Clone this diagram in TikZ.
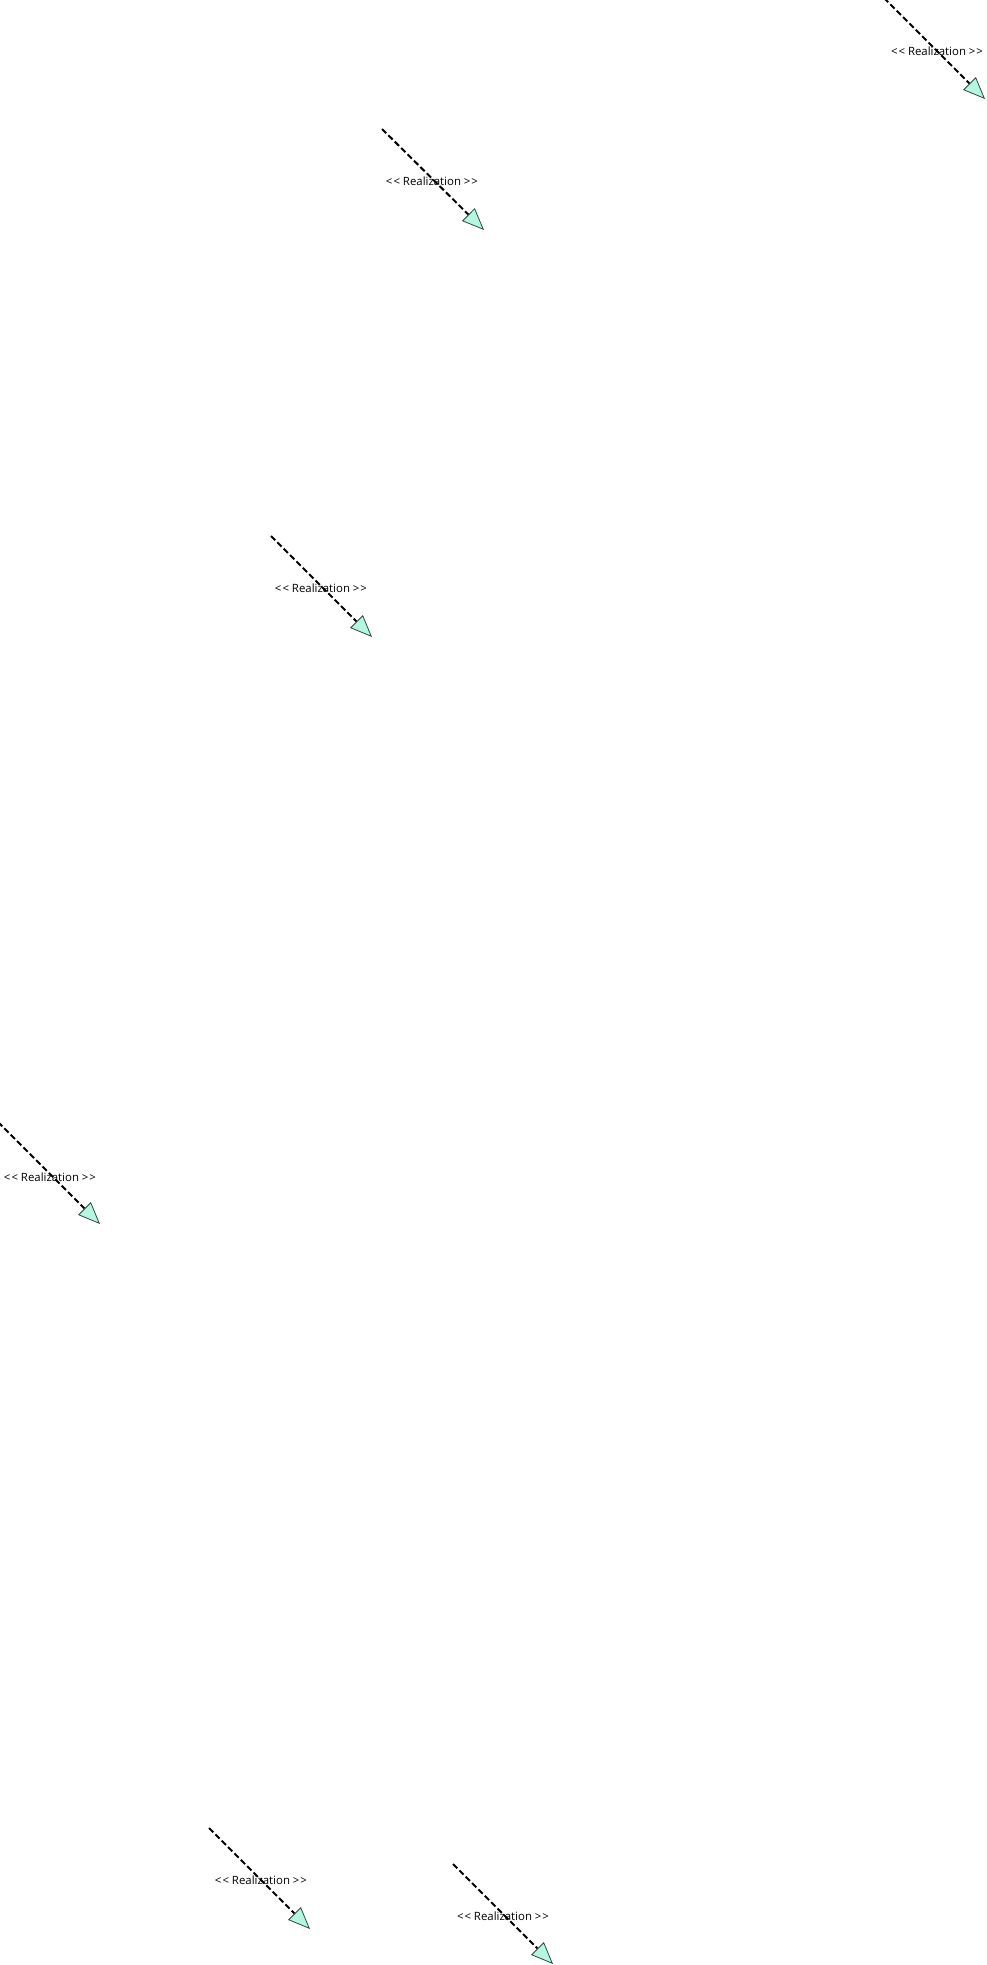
\documentclass[tikz,border=0pt]{standalone}
\usepackage{fontspec}
\setmainfont{Open Sans}
\usetikzlibrary{arrows.meta}
\definecolor{headfill}{HTML}{B5F6E0}
\definecolor{headdraw}{HTML}{2E4A40}
\newcommand\reallabel{<\kern1pt< Realization >\kern1pt>}
\begin{document}
\begin{tikzpicture}[x=1pt,y=-1pt,
  real/.style={draw=black, line width=2pt, dash pattern=on 6pt off 3pt,
    -{Triangle[length=22pt,width=18pt,fill=headfill,color=headdraw,line width=0.8pt]}},
  lbl/.style={font=\fontsize{11.4}{13}\selectfont, inner sep=0pt, text=black}]
\useasboundingbox (0,0) rectangle (987,1965);
% arrow 1
\coordinate (s1) at (884,-2);
\coordinate (t1) at (985,99);
\node[lbl] (l1) at (937,51) {\reallabel};
\draw[real] (s1) -- (t1);
% arrow 2
\coordinate (s2) at (382,129);
\coordinate (t2) at (484,230);
\node[lbl] (l2) at (432,181) {\reallabel};
\draw[real] (s2) -- (t2);
% arrow 3
\coordinate (s3) at (271,536);
\coordinate (t3) at (372,637);
\node[lbl] (l3) at (321,588) {\reallabel};
\draw[real] (s3) -- (t3);
% arrow 4
\coordinate (s4) at (-2,1122);
\coordinate (t4) at (100,1224);
\node[lbl] (l4) at (50,1177) {\reallabel};
\draw[real] (s4) -- (t4);
% arrow 5
\coordinate (s5) at (209,1828);
\coordinate (t5) at (310,1929);
\node[lbl] (l5) at (261,1880) {\reallabel};
\draw[real] (s5) -- (t5);
% arrow 6
\coordinate (s6) at (453,1864);
\coordinate (t6) at (553,1964);
\node[lbl] (l6) at (503,1916) {\reallabel};
\draw[real] (s6) -- (t6);
\end{tikzpicture}
\end{document}
